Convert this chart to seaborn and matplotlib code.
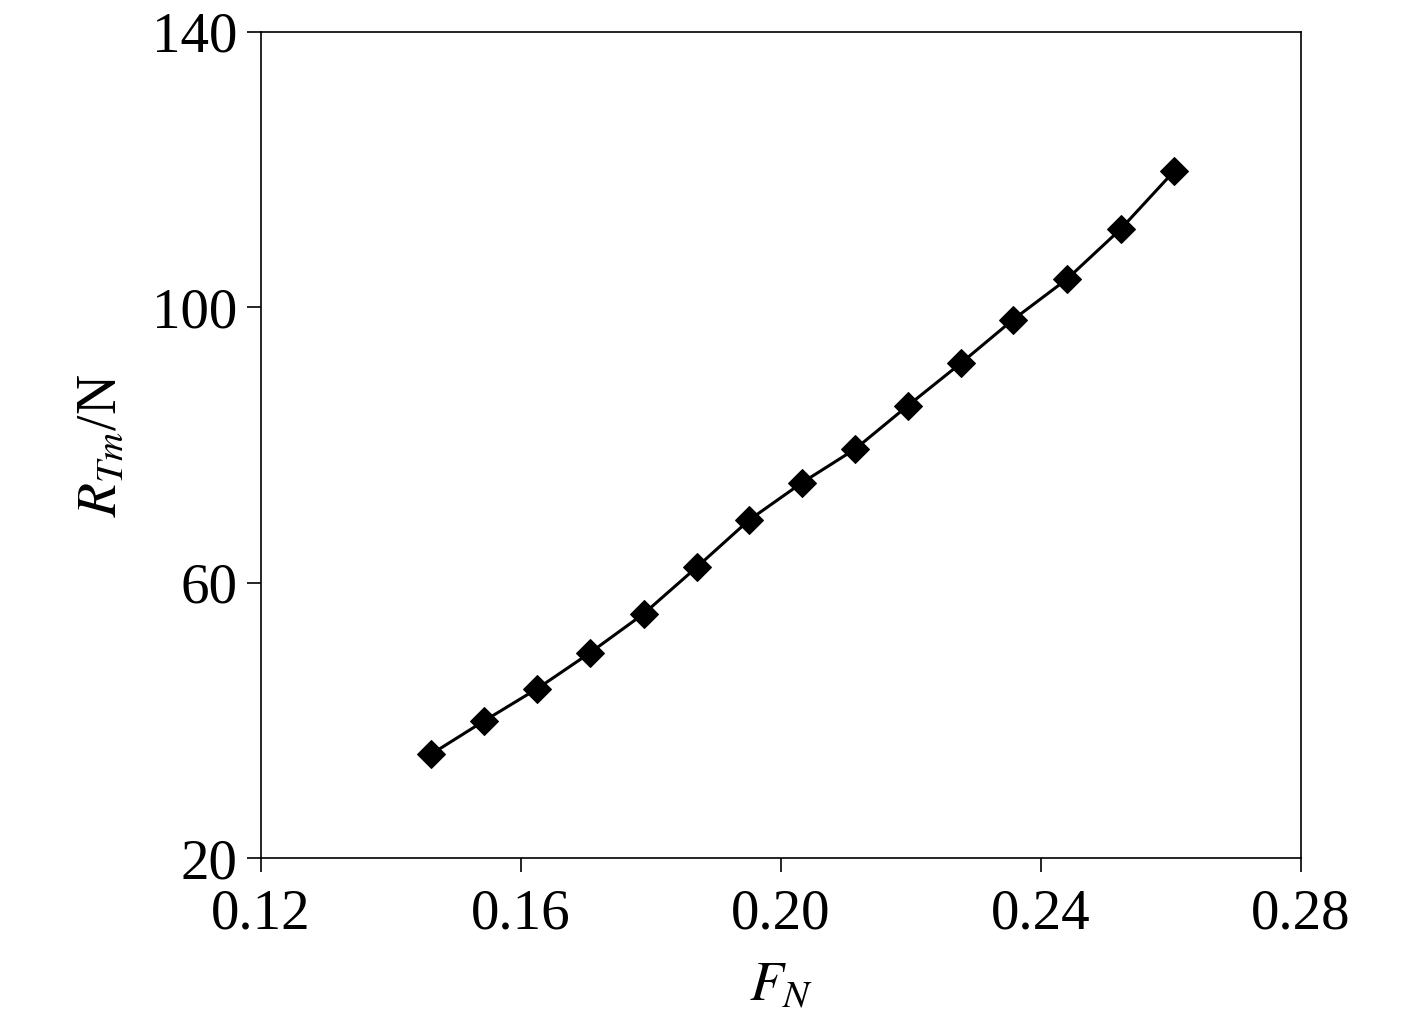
import pandas as pd
import matplotlib
matplotlib.use("Agg")
import matplotlib.pyplot as plt
import seaborn as sns

# -------------------------------------------------
# Data
# -------------------------------------------------
froude = [0.1462, 0.1543, 0.1625, 0.1706, 0.1789, 0.1871, 0.1951, 0.2032,
          0.2114, 0.2195, 0.2277, 0.2357, 0.2440, 0.2523, 0.2605]
resistance = [35.1, 39.9, 44.6, 49.8, 55.5, 62.3, 69.1, 74.5,
              79.4, 85.7, 91.9, 98.2, 104.1, 111.4, 119.8]
x_ticks = [0.12, 0.16, 0.20, 0.24, 0.28]
y_ticks = [20, 60, 100, 140]

df = pd.DataFrame({"Fn": froude, "Rtm": resistance})

# -------------------------------------------------
# Plot Settings
# -------------------------------------------------
sns.set_theme(style="white")
plt.rcParams["font.family"] = ["Liberation Serif", "DejaVu Serif"]
plt.rcParams["mathtext.fontset"] = "stix"
plt.rcParams["text.color"] = "black"
plt.rcParams["axes.labelcolor"] = "black"

fig = plt.figure(figsize=(14.17, 10.32), dpi=100)
ax = fig.add_axes([0.1842, 0.1686, 0.7339, 0.8004])

sns.lineplot(
    data=df, x="Fn", y="Rtm", ax=ax,
    color="black", linewidth=2.2,
    marker="D", markersize=14, markeredgecolor="black",
)

ax.set_xlim(0.12, 0.28)
ax.set_ylim(20, 140)
ax.set_xticks(x_ticks)
ax.set_xticklabels([f"{t:.2f}" for t in x_ticks])
ax.set_yticks(y_ticks)

for s in ax.spines.values():
    s.set_color("black")
    s.set_linewidth(1.2)

ax.tick_params(axis="both", direction="out", length=10, width=1.2,
               labelsize=41, colors="black", bottom=True, left=True)
ax.tick_params(axis="x", pad=12)
ax.tick_params(axis="y", pad=7)

ax.set_xlabel("$F_N$", fontsize=40, labelpad=14)
ax.set_ylabel("$R_{Tm}$/N", fontsize=40, labelpad=18)

plt.savefig("out.png", dpi=100)
